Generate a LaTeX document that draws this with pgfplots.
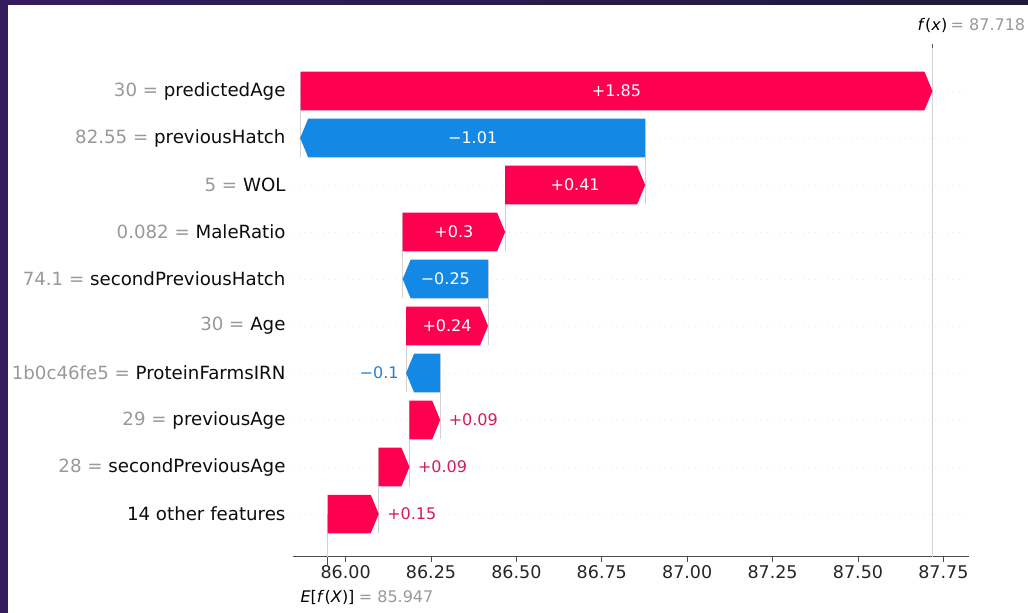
\documentclass[border=0pt]{standalone}
\usepackage{pgfplots}
\pgfplotsset{compat=1.18}
\usepackage{fontspec}
\setmainfont{DejaVu Sans}[ItalicFont={DejaVu Sans Oblique}]

\definecolor{shapred}{RGB}{255,0,81}
\definecolor{shapblue}{RGB}{20,136,229}
\definecolor{redtext}{RGB}{215,25,95}
\definecolor{bluetext}{RGB}{40,130,200}
\definecolor{valgray}{RGB}{153,153,153}
\definecolor{lineg}{RGB}{210,210,210}
\definecolor{rowg}{RGB}{232,232,232}
\definecolor{purpA}{RGB}{52,28,92}
\definecolor{purpB}{RGB}{30,26,58}

% one waterfall bar: y, start, end, colour
\newcommand\wbar[4]{%
  \pgfmathsetmacro\yl{#1-0.41}%
  \pgfmathsetmacro\yh{#1+0.41}%
  \pgfmathsetmacro\xk{#3-sign(#3-#2)*0.0234}%
  \addplot[fill=#4, draw=none] coordinates {(#2,\yl) (\xk,\yl) (#3,#1) (\xk,\yh) (#2,\yh)};
}
% connecting line at x between row y and the row above
\newcommand\wlink[2]{%
  \pgfmathsetmacro\yl{#2-0.41}%
  \pgfmathsetmacro\yh{#2+1.41}%
  \addplot[lineg, line width=0.7pt] coordinates {(#1,\yl) (#1,\yh)};
}
\newcommand\rowline[1]{%
  \addplot[rowg, line width=0.8pt, dash pattern=on 1pt off 5pt] coordinates {(85.846,#1) (87.825,#1)};
}

\begin{document}
\begin{tikzpicture}
\fill[white] (0pt,0pt) rectangle (1028pt,613pt);
\shade[left color=purpA, right color=purpB] (0pt,608pt) rectangle (1028pt,613pt);
\fill[purpA] (0pt,0pt) rectangle (8pt,613pt);
\useasboundingbox (0pt,0pt) rectangle (1028pt,613pt);
\begin{axis}[
    at={(293pt,56.3pt)}, anchor=south west,
    scale only axis, width=676pt, height=508.7pt,
    xmin=85.846, xmax=87.825, ymin=-0.908, ymax=9.915,
    clip=false,
    axis x line*=bottom, axis y line*=left,
    x axis line style={-, black!70, line width=1.1pt},
    y axis line style={draw=none},
    ytick={0,...,9},
    yticklabels={
        14 other features,
        {{\color{valgray}28 = }secondPreviousAge},
        {{\color{valgray}29 = }previousAge},
        {{\color{valgray}1b0c46fe5 = }ProteinFarmsIRN},
        {{\color{valgray}30 = }Age},
        {{\color{valgray}74.1 = }secondPreviousHatch},
        {{\color{valgray}0.082 = }MaleRatio},
        {{\color{valgray}5 = }WOL},
        {{\color{valgray}82.55 = }previousHatch},
        {{\color{valgray}30 = }predictedAge}},
    ytick style={draw=none},
    yticklabel style={font=\fontsize{18.2}{20}\selectfont, text=black!95, xshift=-4pt},
    xtick={86,86.25,86.5,86.75,87,87.25,87.5,87.75},
    xtick align=outside,
    major tick length=5pt,
    xtick style={black!70, line width=0.9pt},
    scaled x ticks=false,
    xticklabel={\pgfmathprintnumber[fixed,fixed zerofill,precision=2]{\tick}},
    xticklabel style={font=\fontsize{17.5}{20}\selectfont, text=black!85},
    /pgf/number format/assume math mode=true,
    extra x ticks={85.947},
    extra x tick labels={},
    extra x tick style={major tick length=8pt},
]
% faint row guides
\rowline{0}\rowline{1}\rowline{2}\rowline{3}\rowline{4}
\rowline{5}\rowline{6}\rowline{7}\rowline{8}\rowline{9}
% base value and model output lines
\addplot[lineg, line width=0.7pt] coordinates {(85.947,-0.908) (85.947,0)};
\addplot[lineg, line width=0.7pt] coordinates {(87.718,-0.908) (87.718,9.915)};
% links between consecutive bars
\wlink{86.097}{0}
\wlink{86.187}{1}
\wlink{86.277}{2}
\wlink{86.177}{3}
\wlink{86.417}{4}
\wlink{86.167}{5}
\wlink{86.467}{6}
\wlink{86.877}{7}
\wlink{85.867}{8}
% bars: row, start, end
\wbar{0}{85.947}{86.097}{shapred}
\wbar{1}{86.097}{86.187}{shapred}
\wbar{2}{86.187}{86.277}{shapred}
\wbar{3}{86.277}{86.177}{shapblue}
\wbar{4}{86.177}{86.417}{shapred}
\wbar{5}{86.417}{86.167}{shapblue}
\wbar{6}{86.167}{86.467}{shapred}
\wbar{7}{86.467}{86.877}{shapred}
\wbar{8}{86.877}{85.867}{shapblue}
\wbar{9}{85.868}{87.718}{shapred}
% bar labels
\begin{scope}[font=\fontsize{16}{19}\selectfont]
\node[text=white] at (axis cs:86.793,9) {+1.85};
\node[text=white] at (axis cs:86.372,8) {−1.01};
\node[text=white] at (axis cs:86.672,7) {+0.41};
\node[text=white] at (axis cs:86.317,6) {+0.3};
\node[text=white] at (axis cs:86.292,5) {−0.25};
\node[text=white] at (axis cs:86.297,4) {+0.24};
\node[text=bluetext, anchor=east, xshift=-4pt] at (axis cs:86.177,3) {−0.1};
\node[text=redtext, anchor=west, xshift=5pt] at (axis cs:86.277,2) {+0.09};
\node[text=redtext, anchor=west, xshift=5pt] at (axis cs:86.187,1) {+0.09};
\node[text=redtext, anchor=west, xshift=5pt] at (axis cs:86.097,0) {+0.15};
% f(x) and E[f(X)]
\draw[black!65, line width=0.8pt] (axis cs:87.718,9.915) -- ++(0pt,4pt);
\node[anchor=base, yshift=17pt, inner xsep=1pt] (fx) at (axis cs:87.718,9.915) {\textit{f}(\textit{x})};
\node[anchor=base west, text=valgray, inner xsep=2pt] at (fx.base east) {= 87.718};
\node[anchor=base, yshift=-46pt, inner xsep=1pt] (ef) at (axis cs:85.947,-0.908) {\textit{E}[\textit{f}(\textit{X})]};
\node[anchor=base west, text=valgray, inner xsep=3pt] at (ef.base east) {= 85.947};
\end{scope}
\end{axis}
\end{tikzpicture}
\end{document}
